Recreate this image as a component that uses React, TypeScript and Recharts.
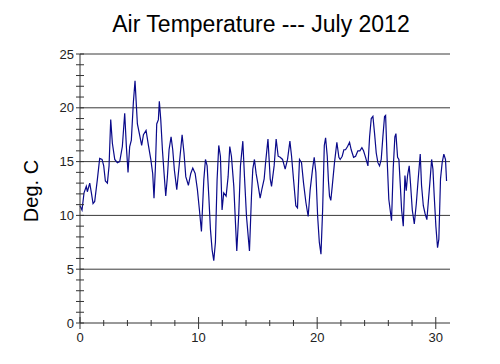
import React from "react";
import { LineChart, Line, XAxis, YAxis, ReferenceLine } from "recharts";

// readings: day of month vs air temperature (deg C)
const days = [
  0.0, 0.17, 0.34, 0.53, 0.62, 0.82, 0.96, 1.1, 1.24, 1.46, 1.66, 1.86, 2.0, 2.14, 2.31, 2.45,
  2.59, 2.73, 2.93, 3.15, 3.35, 3.57, 3.77, 3.91, 4.05, 4.19, 4.33, 4.5, 4.64, 4.84, 5.06, 5.2,
  5.35, 5.57, 5.77, 5.97, 6.13, 6.24, 6.36, 6.47, 6.61, 6.69, 6.81, 6.95, 7.09, 7.23, 7.37, 7.51,
  7.68, 7.82, 7.96, 8.16, 8.35, 8.61, 8.77, 8.92, 9.14, 9.34, 9.51, 9.71, 9.9, 10.07, 10.24, 10.44,
  10.58, 10.72, 10.86, 11.0, 11.14, 11.28, 11.42, 11.56, 11.7, 11.84, 11.98, 12.12, 12.32, 12.49,
  12.63, 12.77, 12.97, 13.11, 13.22, 13.39, 13.53, 13.73, 13.87, 14.04, 14.18, 14.29, 14.46, 14.57,
  14.71, 14.85, 14.99, 15.19, 15.35, 15.53, 15.65, 15.85, 16.04, 16.15, 16.37, 16.54, 16.71, 16.88,
  17.08, 17.3, 17.5, 17.7, 17.84, 18.0, 18.2, 18.34, 18.51, 18.68, 18.85, 19.05, 19.24, 19.41,
  19.61, 19.75, 19.89, 20.04, 20.18, 20.32, 20.46, 20.6, 20.71, 20.85, 20.95, 21.04, 21.15, 21.27,
  21.46, 21.66, 21.83, 21.94, 22.11, 22.25, 22.39, 22.56, 22.73, 22.87, 23.07, 23.24, 23.43, 23.6,
  23.77, 23.91, 24.08, 24.28, 24.42, 24.56, 24.7, 24.84, 24.98, 25.12, 25.26, 25.4, 25.54, 25.68,
  25.77, 25.9, 26.04, 26.27, 26.41, 26.55, 26.64, 26.78, 26.89, 27.0, 27.12, 27.26, 27.4, 27.51,
  27.62, 27.76, 27.88, 28.02, 28.19, 28.36, 28.52, 28.69, 28.8, 28.95, 29.09, 29.25, 29.36, 29.5,
  29.65, 29.76, 29.87, 30.01, 30.15, 30.26, 30.4, 30.54, 30.68, 30.82, 30.91,
];
const temps = [
  10.9, 10.5, 12.1, 12.7, 12.2, 13.0, 12.1, 11.1, 11.3, 13.3, 15.3, 15.2, 14.6, 13.2, 13.0, 14.6,
  18.9, 16.7, 15.2, 14.9, 15.0, 16.4, 19.5, 16.4, 14.0, 16.4, 17.0, 20.5, 22.5, 18.5, 17.3, 16.5,
  17.5, 17.9, 16.5, 15.2, 13.9, 11.6, 14.5, 18.5, 18.9, 20.6, 18.9, 16.1, 13.9, 11.8, 13.6, 16.1,
  17.3, 16.1, 14.2, 12.4, 14.5, 17.5, 15.8, 13.6, 12.8, 13.9, 14.4, 13.9, 12.4, 10.5, 8.5, 13.3,
  15.2, 14.6, 11.8, 8.7, 6.8, 5.8, 7.5, 13.3, 16.5, 15.5, 10.5, 12.1, 11.8, 13.6,
  16.4, 15.5, 12.7, 9.3, 6.7, 10.2, 14.6, 16.9, 13.6, 9.9, 8.1, 6.7, 11.8, 14.3,
  15.2, 13.9, 13.0, 11.6, 12.5, 13.4, 14.9, 17.1, 13.4, 12.7, 14.6, 17.1, 15.5, 15.4,
  15.2, 14.3, 15.2, 16.9, 15.5, 13.4, 10.9, 10.7, 15.2, 14.9, 13.0, 11.2, 9.9, 12.4,
  14.3, 15.4, 14.0, 9.9, 7.5, 6.4, 10.5, 16.5, 17.2, 15.5, 13.2, 11.8, 11.4, 12.7,
  14.9, 16.8, 15.4, 15.2, 15.5, 16.1, 16.1, 16.4, 16.8, 16.1, 15.4, 15.5, 16.0, 16.0,
  16.3, 16.0, 15.4, 14.6, 17.3, 19.0, 19.2, 17.6, 15.8, 14.9, 14.6, 15.2, 17.3, 19.2,
  19.3, 15.2, 11.5, 9.5, 14.3, 17.3, 17.6, 15.4, 15.2, 13.0, 10.5, 9.0, 13.7, 12.3,
  13.7, 14.6, 12.8, 10.5, 9.2, 11.1, 13.4, 15.7, 12.8, 10.9, 10.2, 9.6, 11.1, 13.0,
  15.2, 14.3, 11.8, 9.0, 7.0, 7.8, 13.4, 14.9, 15.7, 15.2, 13.2,
];

const xTicks = [0, 2, 4, 6, 8, 10, 12, 14, 16, 18, 20, 22, 24, 26, 28, 30];
const yTicks = [0, 1, 2, 3, 4, 5, 6, 7, 8, 9, 10, 11, 12, 13, 14, 15, 16, 17, 18, 19, 20, 21, 22, 23, 24, 25];
const gridValues = [5, 10, 15, 20, 25];

const data = days.map((d, i) => ({ day: d, temp: temps[i] }));

const font = "'Liberation Sans', Arial, sans-serif";
const axisColor = "#333";

const YTick = (props: any) => {
  const { x, y, payload } = props;
  const major = payload.value % 5 === 0;
  return (
    <g>
      <line x1={x - 4} x2={x + 4} y1={y} y2={y} stroke={axisColor} />
      {major && (
        <text x={x - 6} y={y} dy={4.5} textAnchor="end" fontSize={13} fontFamily={font} fill="#222">
          {payload.value}
        </text>
      )}
    </g>
  );
};

const XTick = (props: any) => {
  const { x, y, payload } = props;
  const major = payload.value % 10 === 0;
  return (
    <g>
      <line x1={x} x2={x} y1={major ? y - 6 : y - 3} y2={major ? y + 6 : y + 3} stroke={axisColor} />
      {major && (
        <text x={x} y={y} dy={19} textAnchor="middle" fontSize={13} fontFamily={font} fill="#222">
          {payload.value}
        </text>
      )}
    </g>
  );
};

export default function App() {
  return (
    <div style={{ position: "relative", width: 500, height: 364, margin: -8, background: "#fff" }}>
      <LineChart
        width={500}
        height={364}
        data={data}
        margin={{ top: 54, right: 50, left: 30, bottom: 11 }}
      >
        <XAxis
          dataKey="day"
          type="number"
          domain={[0, 31.2]}
          ticks={xTicks}
          interval={0}
          height={30}
          tickSize={0}
          tickMargin={0}
          tickLine={false}
          axisLine={{ stroke: axisColor }}
          tick={<XTick />}
        />
        <YAxis
          type="number"
          domain={[0, 25]}
          ticks={yTicks}
          interval={0}
          width={50}
          tickSize={0}
          tickMargin={0}
          tickLine={false}
          axisLine={{ stroke: axisColor }}
          tick={<YTick />}
        />
        {gridValues.map((v) => (
          <ReferenceLine key={v} y={v} stroke="#3a3a3a" strokeWidth={1} />
        ))}
        <Line
          type="linear"
          dataKey="temp"
          stroke="#0a0a8a"
          strokeWidth={1.2}
          dot={false}
          isAnimationActive={false}
        />
      </LineChart>
      <svg
        width={500}
        height={364}
        style={{ position: "absolute", left: 0, top: 0, pointerEvents: "none" }}
      >
        <text x={261} y={32} textAnchor="middle" fontSize={23} fontFamily={font} fill="#000">
          Air Temperature --- July 2012
        </text>
        <text
          x={38}
          y={191}
          textAnchor="middle"
          fontSize={20}
          fontFamily={font}
          fill="#000"
          transform="rotate(-90 38 191)"
        >
          Deg. C
        </text>
      </svg>
    </div>
  );
}
